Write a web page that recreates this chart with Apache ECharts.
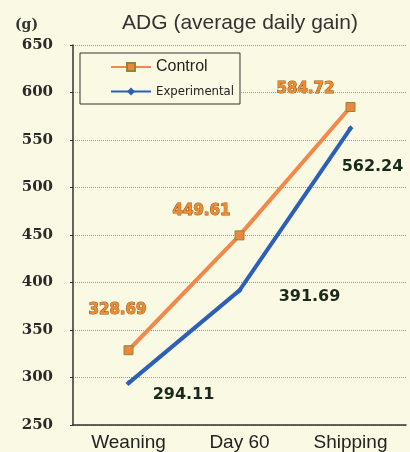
<!DOCTYPE html>
<html><head><meta charset="utf-8">
<script src="https://cdn.jsdelivr.net/npm/echarts@6/dist/echarts.min.js"></script>
<style>html,body{margin:0;padding:0;background:#fafae4;}#c{width:410px;height:452px;}</style>
</head><body><div id="c"></div>
<script>
const categories = ['Weaning', 'Day 60', 'Shipping'];
const controlValues = [328.69, 449.61, 584.72];
const experimentalValues = [294.11, 391.69, 562.24];
const yTicks = [250, 300, 350, 400, 450, 500, 550, 600, 650];

const controlOffsets = [[-11, -40], [-38, -24], [-45, -18]];
const expOffsets = [[55, 12], [70, 6], [22, 38]];

const chart = echarts.init(document.getElementById('c'));
chart.setOption({
  backgroundColor: '#fafae4',
  animation: false,
  title: [
    {text: 'ADG (average daily gain)', left: 235, top: 8, textAlign: 'center',
     textStyle: {fontFamily: 'Liberation Sans', fontWeight: 'normal', fontSize: 21, color: '#333'}},
    {text: '(g)', left: 10, top: 13,
     textStyle: {fontFamily: 'DejaVu Serif', fontWeight: 'bold', fontSize: 14, color: '#333'}}
  ],
  legend: {
    left: 80, top: 53, orient: 'vertical',
    itemGap: 10, padding: [6, 6, 6, 30],
    borderColor: '#333', borderWidth: 1, backgroundColor: '#fafae4',
    itemWidth: 40, itemHeight: 10,
    textStyle: {fontFamily: 'Liberation Sans', fontSize: 16, color: '#222'},
    data: [{name: 'Control'}, {name: 'Experimental', textStyle: {fontSize: 13, fontFamily: 'DejaVu Sans Condensed'}}]
  },
  grid: {left: 73, right: 4, top: 45, bottom: 27},
  xAxis: {
    type: 'category', data: categories, boundaryGap: true,
    axisLine: {lineStyle: {color: '#333', width: 1.5}},
    axisTick: {inside: true, length: 4, lineStyle: {color: '#333'}},
    axisLabel: {margin: 8, fontFamily: 'Liberation Sans', fontSize: 19, color: '#222'}
  },
  yAxis: {
    type: 'value', min: yTicks[0], max: yTicks[yTicks.length - 1], interval: 50,
    axisLine: {show: true, lineStyle: {color: '#333', width: 1.5}},
    axisTick: {show: true, length: 3, lineStyle: {color: '#333'}},
    splitLine: {lineStyle: {color: '#999', type: 'dotted'}},
    axisLabel: {margin: 20, fontFamily: 'DejaVu Serif', fontWeight: 'bold', fontSize: 15, color: '#2a2a2a'}
  },
  series: [
    {
      name: 'Control', type: 'line', data: controlValues.map((v, i) => ({value: v, label: {offset: controlOffsets[i]}})),
      symbol: 'rect', symbolSize: 9,
      itemStyle: {color: '#ee8640', borderColor: '#8a8a30', borderWidth: 1},
      lineStyle: {color: '#f2894a', width: 4},
      label: {show: true, position: 'inside', formatter: p => p.value.toFixed(2),
        fontFamily: 'DejaVu Sans', fontWeight: 'bold', fontSize: 15, color: '#f08a30',
        textBorderColor: '#8a5a20', textBorderWidth: 1},
      z: 3
    },
    {
      name: 'Experimental', type: 'line', data: experimentalValues.map((v, i) => ({value: v, label: {offset: expOffsets[i]}})),
      symbol: 'diamond', symbolSize: 6,
      itemStyle: {color: '#2c5fb8'},
      lineStyle: {color: '#2c5fb8', width: 4},
      label: {show: true, position: 'inside', formatter: p => p.value.toFixed(2),
        fontFamily: 'DejaVu Sans', fontWeight: 'bold', fontSize: 16, color: '#1a2a1a'},
      z: 2
    }
  ]
});
</script></body></html>
